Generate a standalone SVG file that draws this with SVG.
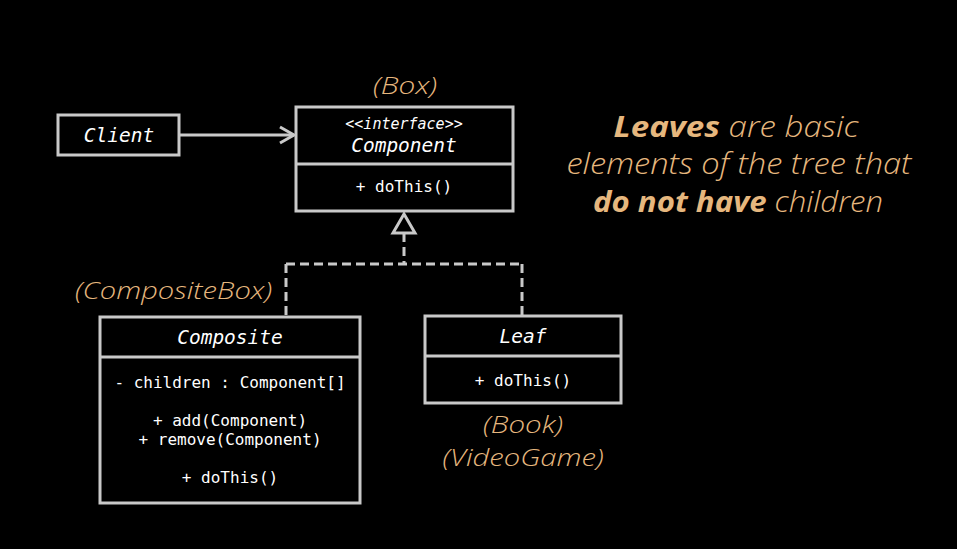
<svg xmlns="http://www.w3.org/2000/svg" width="957" height="549" viewBox="0 0 957 549">
<defs>
<style>
.box{fill:#000;stroke:#c9c9c9;stroke-width:3}
.div{stroke:#c9c9c9;stroke-width:3}
.mono{font-family:"DejaVu Sans Mono","Liberation Mono",monospace;fill:#fff;text-anchor:middle}
.name{font-size:19.5px;font-style:italic}
.ster{font-size:15px;font-style:italic}
.op{font-size:16px}
.lbl{font-family:"Open Sans",Lato,sans-serif;font-style:italic;font-weight:300;fill:#e6b77e;font-size:24px}
.note{font-family:"Open Sans",Lato,sans-serif;font-style:italic;font-weight:300;fill:#e6b77e;font-size:29px;text-anchor:middle}
.b{font-weight:700}
.conn{fill:none;stroke:#c9c9c9;stroke-width:3}
.dash{stroke-dasharray:9 5}
</style>
<marker id="open" viewBox="0 0 20 20" refX="17" refY="10" markerWidth="20" markerHeight="20" markerUnits="userSpaceOnUse" orient="auto">
<path d="M3,2 L17,10 L3,18" fill="none" stroke="#c9c9c9" stroke-width="3"/>
</marker>
</defs>
<rect width="957" height="549" fill="#000"/>

<g id="connectors">
<path class="conn" d="M179,135 H294" marker-end="url(#open)"/>
<path class="conn dash" d="M404,233 V264 M286,264 H522 M286,264 V316 M522,264 V315"/>
<path d="M404,214 L393,233 L415,233 Z" fill="#000" stroke="#c9c9c9" stroke-width="3" stroke-linejoin="miter"/>
</g>

<g id="client">
<rect class="box" x="58" y="115" width="121" height="40"/>
<text class="mono name" x="119" y="142">Client</text>
</g>

<g id="component">
<rect class="box" x="296" y="107" width="217" height="104"/>
<line class="div" x1="296" y1="164" x2="513" y2="164"/>
<text class="mono ster" x="404" y="129">&lt;&lt;interface&gt;&gt;</text>
<text class="mono name" x="404" y="152">Component</text>
<text class="mono op" x="404" y="192">+ doThis()</text>
</g>

<g id="composite">
<rect class="box" x="100" y="317" width="260" height="186"/>
<line class="div" x1="100" y1="357" x2="360" y2="357"/>
<text class="mono name" x="230" y="344">Composite</text>
<text class="mono op" x="230" y="388">- children : Component[]</text>
<text class="mono op" x="230" y="426">+ add(Component)</text>
<text class="mono op" x="230" y="445">+ remove(Component)</text>
<text class="mono op" x="230" y="483">+ doThis()</text>
</g>

<g id="leaf">
<rect class="box" x="425" y="316" width="196" height="87"/>
<line class="div" x1="425" y1="356" x2="621" y2="356"/>
<text class="mono name" x="523" y="343">Leaf</text>
<text class="mono op" x="523" y="386">+ doThis()</text>
</g>

<g id="labels">
<text class="lbl" x="405" y="94" text-anchor="middle" textLength="64" lengthAdjust="spacingAndGlyphs">(Box)</text>
<text class="lbl" x="272" y="299" text-anchor="end" textLength="197" lengthAdjust="spacingAndGlyphs">(CompositeBox)</text>
<text class="lbl" x="523" y="433" text-anchor="middle" textLength="80" lengthAdjust="spacingAndGlyphs">(Book)</text>
<text class="lbl" x="523" y="466" text-anchor="middle" textLength="161" lengthAdjust="spacingAndGlyphs">(VideoGame)</text>
</g>

<g id="note">
<text class="note" x="736" y="137" textLength="245" lengthAdjust="spacingAndGlyphs"><tspan class="b">Leaves</tspan> are basic</text>
<text class="note" x="739" y="174" textLength="345" lengthAdjust="spacingAndGlyphs">elements of the tree that</text>
<text class="note" x="738" y="212" textLength="290" lengthAdjust="spacingAndGlyphs"><tspan class="b">do not have</tspan> children</text>
</g>
</svg>
